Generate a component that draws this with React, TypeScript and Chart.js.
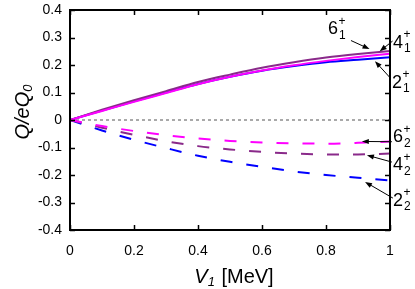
import { useEffect, useRef } from "react";
import { Chart, registerables } from "chart.js";

Chart.register(...registerables);

// ---- data ----
const V = [0, 0.1, 0.2, 0.3, 0.4, 0.5, 0.6, 0.7, 0.8, 0.9, 1.0];
// solid: first excited states
const q6_1 = [0, 0.037, 0.072, 0.105, 0.138, 0.165, 0.19, 0.21, 0.227, 0.24, 0.251];
const q4_1 = [0, 0.033, 0.066, 0.098, 0.13, 0.157, 0.18, 0.199, 0.215, 0.229, 0.241];
const q2_1 = [0, 0.034, 0.068, 0.1, 0.131, 0.157, 0.179, 0.196, 0.21, 0.219, 0.228];
// dashed: second states
const q6_2 = [0, -0.022, -0.04, -0.055, -0.067, -0.076, -0.082, -0.085, -0.086, -0.083, -0.078];
const q4_2 = [0, -0.028, -0.054, -0.077, -0.095, -0.107, -0.116, -0.122, -0.125, -0.125, -0.122];
const q2_2 = [0, -0.038, -0.072, -0.102, -0.13, -0.152, -0.17, -0.187, -0.2, -0.21, -0.22];
const zeroLineX = [0, 1];
const zeroLineY = [0, 0];

const xTicks = [0, 0.2, 0.4, 0.6, 0.8, 1];
const xTickLabels = ["0", "0.2", "0.4", "0.6", "0.8", "1"];
const yTicks = [-0.4, -0.3, -0.2, -0.1, 0, 0.1, 0.2, 0.3, 0.4];
const yTickLabels = ["-0.4", "-0.3", "-0.2", "-0.1", "0", "0.1", "0.2", "0.3", "0.4"];

const stateNames = ["6", "4", "2", "6", "4", "2"];
const stateIndex = ["1", "1", "1", "2", "2", "2"];

// annotation placement in data units (label centre, arrow tail, arrow head)
const annotationPlacement = [
  { at: [0.822, 0.33], from: [0.878, 0.289], to: [0.936, 0.258] },
  { at: [1.025, 0.281], from: [1.008, 0.287], to: [0.968, 0.25] },
  { at: [1.022, 0.136], from: [1.0, 0.154], to: [0.953, 0.214] },
  { at: [1.025, -0.063], from: [1.006, -0.079], to: [0.912, -0.078] },
  { at: [1.025, -0.165], from: [1.006, -0.153], to: [0.928, -0.128] },
  { at: [1.025, -0.295], from: [1.009, -0.284], to: [0.922, -0.225] },
];

const PURPLE = "#8a2a8a";
const MAGENTA = "#ff00ff";
const BLUE = "#0000ff";
const FONT = "'Liberation Sans', Arial, Helvetica, sans-serif";

function pts(ys: number[], xs: number[] = V) {
  return ys.map((y, i) => ({ x: xs[i], y }));
}

function arrow(ctx: CanvasRenderingContext2D, x1: number, y1: number, x2: number, y2: number) {
  const ang = Math.atan2(y2 - y1, x2 - x1);
  const len = 7;
  const w = 2.6;
  ctx.beginPath();
  ctx.moveTo(x1, y1);
  ctx.lineTo(x2 - Math.cos(ang) * len * 0.8, y2 - Math.sin(ang) * len * 0.8);
  ctx.stroke();
  ctx.beginPath();
  ctx.moveTo(x2, y2);
  ctx.lineTo(x2 - Math.cos(ang) * len - Math.sin(ang) * w, y2 - Math.sin(ang) * len + Math.cos(ang) * w);
  ctx.lineTo(x2 - Math.cos(ang) * len + Math.sin(ang) * w, y2 - Math.sin(ang) * len - Math.cos(ang) * w);
  ctx.closePath();
  ctx.fill();
}

const decorPlugin = {
  id: "decor",
  afterDraw(chart: any) {
    const ctx: CanvasRenderingContext2D = chart.ctx;
    const { left, right, top, bottom } = chart.chartArea;
    const xs = chart.scales.x;
    const ys = chart.scales.y;
    ctx.save();
    // frame
    ctx.strokeStyle = "#000";
    ctx.lineWidth = 2;
    ctx.strokeRect(left, top, right - left, bottom - top);
    // inward ticks
    ctx.lineWidth = 1.5;
    const tl = 5;
    ctx.beginPath();
    xTicks.forEach((v) => {
      const px = Math.round(xs.getPixelForValue(v)) + 0.5;
      ctx.moveTo(px, bottom);
      ctx.lineTo(px, bottom - tl);
      ctx.moveTo(px, top);
      ctx.lineTo(px, top + tl);
    });
    yTicks.forEach((v) => {
      const py = Math.round(ys.getPixelForValue(v)) + 0.5;
      ctx.moveTo(left, py);
      ctx.lineTo(left + tl, py);
      ctx.moveTo(right, py);
      ctx.lineTo(right - tl, py);
    });
    ctx.stroke();

    // state labels with arrows
    ctx.fillStyle = "#000";
    ctx.strokeStyle = "#000";
    ctx.lineWidth = 1;
    annotationPlacement.forEach((a, i) => {
      const cx = xs.getPixelForValue(a.at[0]);
      const cy = ys.getPixelForValue(a.at[1]);
      ctx.font = `18px ${FONT}`;
      ctx.textAlign = "center";
      ctx.textBaseline = "middle";
      ctx.fillText(stateNames[i], cx, cy);
      const w = ctx.measureText(stateNames[i]).width;
      ctx.font = `12px ${FONT}`;
      ctx.textAlign = "left";
      ctx.fillText("+", cx + w / 2 + 0.5, cy - 8);
      ctx.fillText(stateIndex[i], cx + w / 2 + 1, cy + 6);
      arrow(
        ctx,
        xs.getPixelForValue(a.from[0]),
        ys.getPixelForValue(a.from[1]),
        xs.getPixelForValue(a.to[0]),
        ys.getPixelForValue(a.to[1])
      );
    });

    // y title: Q/eQ_0 (rotated)
    ctx.save();
    ctx.translate(22, 112);
    ctx.rotate(-Math.PI / 2);
    ctx.textBaseline = "alphabetic";
    ctx.font = `italic 20px ${FONT}`;
    const main = "Q/eQ";
    const mw = ctx.measureText(main).width;
    ctx.font = `italic 13px ${FONT}`;
    const sw = ctx.measureText("0").width;
    const total = mw + sw;
    ctx.font = `italic 20px ${FONT}`;
    ctx.textAlign = "left";
    ctx.fillText(main, -total / 2, 7);
    ctx.font = `italic 13px ${FONT}`;
    ctx.fillText("0", -total / 2 + mw, 10);
    ctx.restore();

    // x title: V_1 [MeV]
    ctx.save();
    ctx.textBaseline = "alphabetic";
    ctx.font = `italic 20px ${FONT}`;
    const vw = ctx.measureText("V").width;
    ctx.font = `italic 13px ${FONT}`;
    const onew = ctx.measureText("1").width;
    ctx.font = `20px ${FONT}`;
    const rest = " [MeV]";
    const rw = ctx.measureText(rest).width;
    const tot = vw + onew + 1 + rw;
    const x0 = (left + right) / 2 + 4 - tot / 2;
    const by = bottom + 53;
    ctx.textAlign = "left";
    ctx.font = `italic 20px ${FONT}`;
    ctx.fillText("V", x0, by);
    ctx.font = `italic 13px ${FONT}`;
    ctx.fillText("1", x0 + vw, by + 3);
    ctx.font = `20px ${FONT}`;
    ctx.fillText(rest, x0 + vw + onew + 1, by);
    ctx.restore();

    ctx.restore();
  },
};

export default function App() {
  const ref = useRef<HTMLCanvasElement | null>(null);
  useEffect(() => {
    document.body.style.margin = "0";
    const canvas = ref.current;
    if (!canvas) return;
    const solid = (label: string, d: number[], color: string, order: number) => ({
      label,
      data: pts(d),
      borderColor: color,
      backgroundColor: color,
      borderWidth: 2,
      pointRadius: 0,
      tension: 0.4,
      cubicInterpolationMode: "monotone" as const,
      order,
    });
    const dashed = (label: string, d: number[], color: string, order: number) => ({
      ...solid(label, d, color, order),
      borderDash: [12, 14],
    });
    const chart = new Chart(canvas, {
      type: "line",
      data: {
        datasets: [
          {
            label: "zero",
            data: pts(zeroLineY, zeroLineX),
            borderColor: "#555",
            borderWidth: 1,
            borderDash: [3, 3],
            pointRadius: 0,
            order: 10,
          },
          solid("2_1", q2_1, BLUE, 3),
          solid("6_1", q6_1, PURPLE, 2),
          solid("4_1", q4_1, MAGENTA, 1),
          dashed("2_2", q2_2, BLUE, 3),
          dashed("4_2", q4_2, PURPLE, 2),
          dashed("6_2", q6_2, MAGENTA, 1),
        ] as any,
      },
      options: {
        animation: false,
        responsive: false,
        devicePixelRatio: 1,
        layout: { padding: { top: 10, right: 25, left: 0, bottom: 0 } },
        plugins: { legend: { display: false }, tooltip: { enabled: false } },
        scales: {
          x: {
            type: "linear",
            min: 0,
            max: 1,
            grid: { display: false, drawTicks: false },
            border: { display: false },
            afterBuildTicks: (s: any) => {
              s.ticks = xTicks.map((v) => ({ value: v }));
            },
            afterFit: (s: any) => {
              s.height = 59;
              s.paddingLeft = 0;
              s.paddingRight = 0;
            },
            ticks: {
              color: "#000",
              font: { size: 14, family: FONT },
              padding: 13,
              maxRotation: 0,
              callback: (v: any) => {
                const i = xTicks.findIndex((t) => Math.abs(t - Number(v)) < 1e-9);
                return i >= 0 ? xTickLabels[i] : "";
              },
            },
          },
          y: {
            type: "linear",
            min: -0.4,
            max: 0.4,
            grid: { display: false, drawTicks: false },
            border: { display: false },
            afterBuildTicks: (s: any) => {
              s.ticks = yTicks.map((v) => ({ value: v }));
            },
            afterFit: (s: any) => {
              s.width = 70;
              s.paddingTop = 0;
              s.paddingBottom = 0;
            },
            ticks: {
              color: "#000",
              font: { size: 14, family: FONT },
              padding: 8,
              callback: (v: any) => {
                const i = yTicks.findIndex((t) => Math.abs(t - Number(v)) < 1e-9);
                return i >= 0 ? yTickLabels[i] : "";
              },
            },
          },
        },
      },
      plugins: [decorPlugin],
    });
    return () => chart.destroy();
  }, []);
  return <canvas ref={ref} width={415} height={289} style={{ display: "block" }} />;
}
